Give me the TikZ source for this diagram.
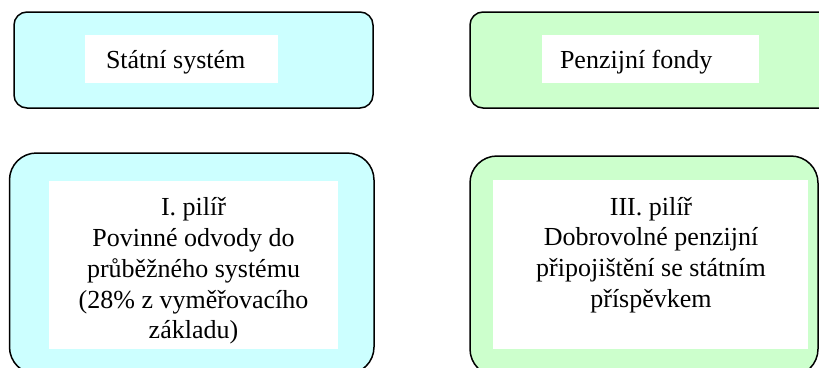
\documentclass[tikz,border=0pt]{standalone}
\usepackage{fontspec}
\setmainfont{Liberation Serif}
\definecolor{cyanfill}{HTML}{CCFFFF}
\definecolor{greenfill}{HTML}{CCFFCC}
\begin{document}
\begin{tikzpicture}[x=1pt,y=-1pt,
  outerbox/.style={draw=black, line width=1.5pt, inner sep=0pt, outer sep=0pt},
  whitebox/.style={fill=white, draw=none, inner sep=0pt, outer sep=0pt},
  label/.style={inner sep=0pt, outer sep=0pt, font=\fontsize{26}{30.8}\selectfont},
  multilabel/.style={label, align=center}]
\useasboundingbox (0,0) rectangle (819,367);
\clip (0,0) rectangle (819,367);
% top boxes
\node[outerbox, fill=cyanfill, rounded corners=13pt, minimum width=359pt, minimum height=96pt] (b1) at (193.5,60) {};
\node[whitebox, minimum width=193pt, minimum height=48pt] (w1) at (181.5,59) {};
\node[label, anchor=base west] (t1) at (106,68.5) {Státní systém};
\node[outerbox, fill=greenfill, rounded corners=13pt, minimum width=365pt, minimum height=96pt] (b2) at (652.5,60) {};
\node[whitebox, minimum width=217pt, minimum height=48pt] (w2) at (650.5,59) {};
\node[label, anchor=base west] (t2) at (560,68.5) {Penzijní fondy};
% bottom boxes
\node[outerbox, fill=cyanfill, rounded corners=27pt, minimum width=364.5pt, minimum height=221pt] (b3) at (191.75,263.5) {};
\node[whitebox, minimum width=289pt, minimum height=168pt] (w3) at (193.5,265) {};
\node[multilabel] (t3) at (193.5,271) {I. pilíř\\Povinné odvody do\\průběžného systému\\(28\% z vyměřovacího\\základu)};
\node[outerbox, fill=greenfill, rounded corners=27pt, minimum width=348pt, minimum height=220pt] (b4) at (644,266) {};
\node[whitebox, minimum width=315pt, minimum height=169pt] (w4) at (650.5,264.5) {};
\node[multilabel] (t4) at (651,255) {III. pilíř\\Dobrovolné penzijní\\připojištění se státním\\příspěvkem};
\end{tikzpicture}
\end{document}
